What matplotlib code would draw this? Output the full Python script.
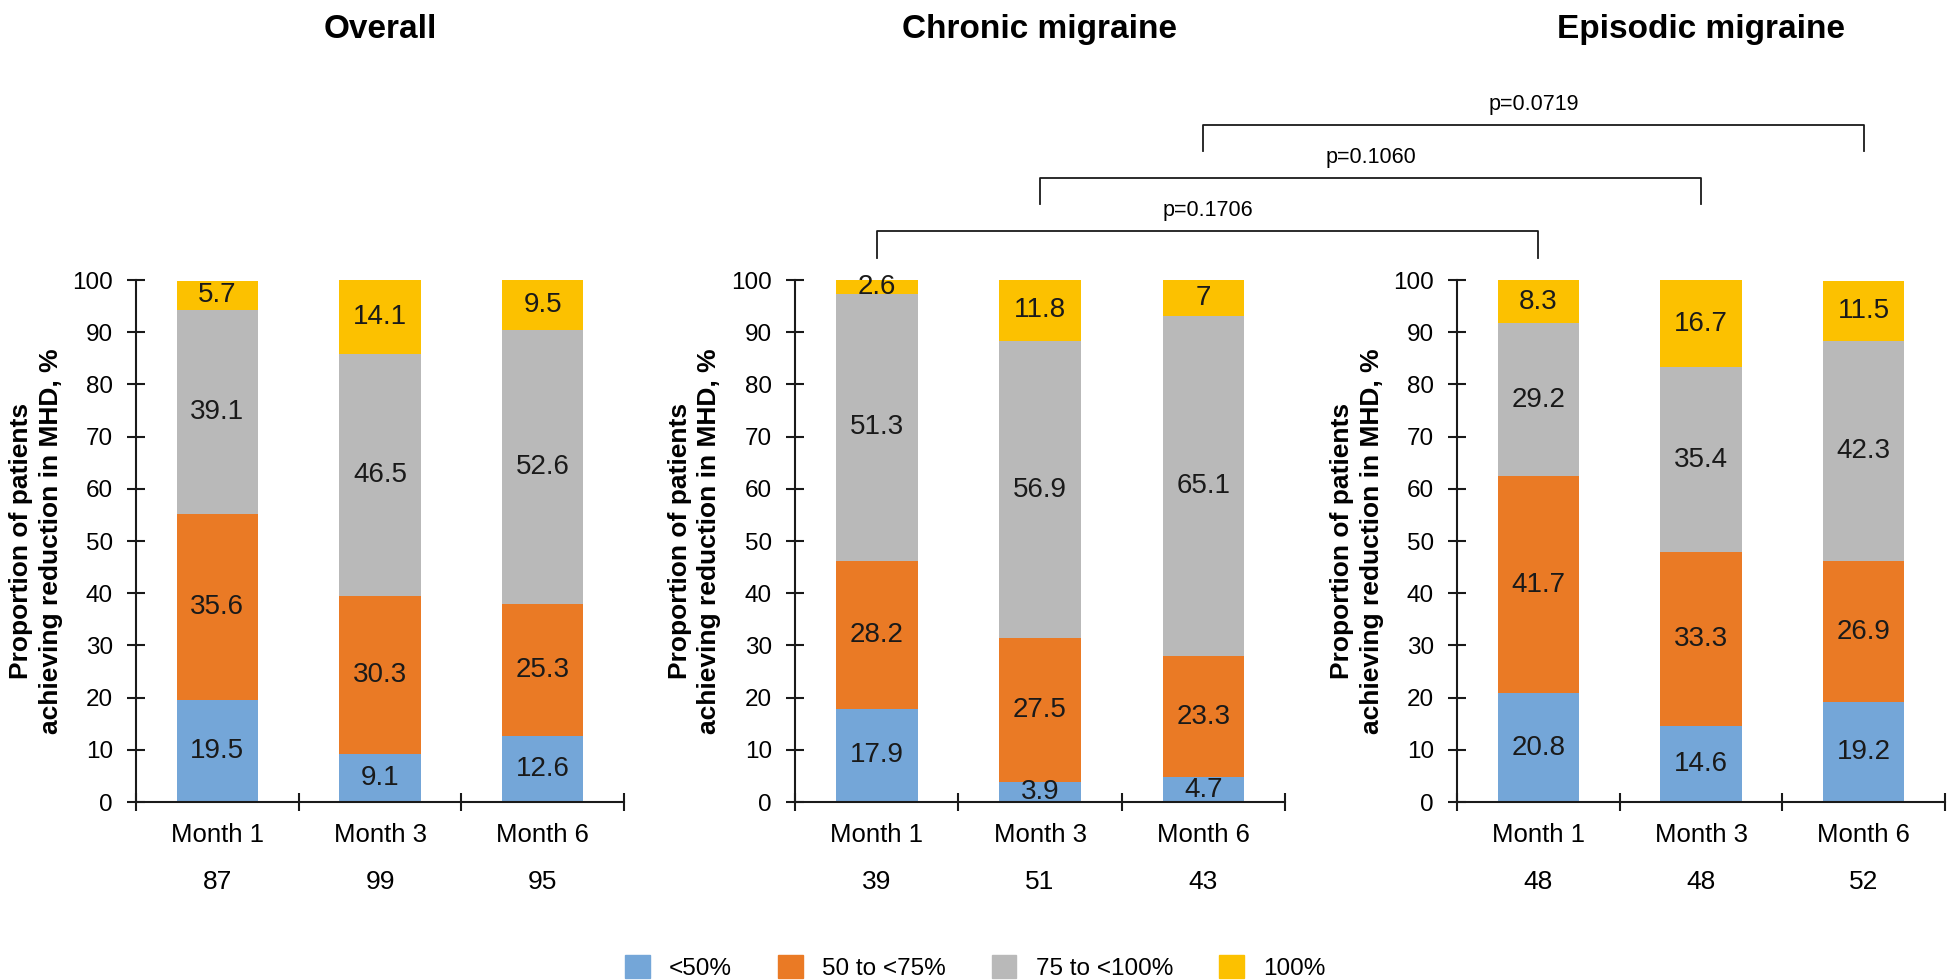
import matplotlib.pyplot as plt
from matplotlib.lines import Line2D
from matplotlib.patches import Patch

plt.rcParams['font.family'] = ['Liberation Sans', 'DejaVu Sans']

months = ['Month 1', 'Month 3', 'Month 6']
titles = ['Overall', 'Chronic migraine', 'Episodic migraine']
categories = ['<50%', '50 to <75%', '75 to <100%', '100%']
colors = ['#74A6D8', '#EA7A25', '#B9B9B9', '#FCC100']

n_overall = [87, 99, 95]
n_chronic = [39, 51, 43]
n_episodic = [48, 48, 52]

overall_lt50 = [19.5, 9.1, 12.6]
overall_50_75 = [35.6, 30.3, 25.3]
overall_75_100 = [39.1, 46.5, 52.6]
overall_100 = [5.7, 14.1, 9.5]

chronic_lt50 = [17.9, 3.9, 4.7]
chronic_50_75 = [28.2, 27.5, 23.3]
chronic_75_100 = [51.3, 56.9, 65.1]
chronic_100 = [2.6, 11.8, 7]

episodic_lt50 = [20.8, 14.6, 19.2]
episodic_50_75 = [41.7, 33.3, 26.9]
episodic_75_100 = [29.2, 35.4, 42.3]
episodic_100 = [8.3, 16.7, 11.5]

# chronic vs episodic, same month
p_labels = ['p=0.1706', 'p=0.1060', 'p=0.0719']

panels = [
    [overall_lt50, overall_50_75, overall_75_100, overall_100],
    [chronic_lt50, chronic_50_75, chronic_75_100, chronic_100],
    [episodic_lt50, episodic_50_75, episodic_75_100, episodic_100],
]
ns = [n_overall, n_chronic, n_episodic]

W, H = 1951, 980
fig = plt.figure(figsize=(W / 100, H / 100), dpi=100)

lefts = [136, 795, 1457]
widths = [488, 490, 488]
x = [0, 1, 2]
axes = []
for i in range(3):
    ax = fig.add_axes([lefts[i] / W, 178 / H, widths[i] / W, 522 / H])
    axes.append(ax)
    bottom = [0, 0, 0]
    for vals, col in zip(panels[i], colors):
        ax.bar(x, vals, width=0.5, bottom=bottom, color=col, zorder=2)
        for xi, v, b in zip(x, vals, bottom):
            ax.text(xi, b + v / 2, f'{v:g}', ha='center', va='center',
                    fontsize=20, color='#1a1a1a', zorder=3)
        bottom = [b + v for b, v in zip(bottom, vals)]

    ax.set_xlim(-0.5, 2.5)
    ax.set_ylim(0, 100)
    for s in ['top', 'right']:
        ax.spines[s].set_visible(False)
    for s in ['left', 'bottom']:
        ax.spines[s].set_linewidth(1.5)
        ax.spines[s].set_color('#1a1a1a')
    ax.set_yticks(range(0, 101, 10))
    ax.set_xticks([-0.5, 0.5, 1.5, 2.5])
    ax.set_xticklabels([])
    ax.set_xticks(x, months, minor=True)
    ax.tick_params(which='major', direction='inout', length=13, width=1.5,
                   labelsize=17.5, pad=10, color='#1a1a1a')
    ax.tick_params(axis='x', which='minor', length=0, labelsize=18.5, pad=15)
    for xi, n in zip(x, ns[i]):
        ax.text(xi, -0.153, str(n), transform=ax.get_xaxis_transform(),
                ha='center', va='center', fontsize=19)

    ax.set_ylabel('Proportion of patients\nachieving reduction in MHD, %',
                  fontsize=19, fontweight='bold', va='center', linespacing=1.3)
    ax.yaxis.set_label_coords(-0.205, 0.5)
    ax.text(0.5, 1.4636, titles[i], transform=ax.transAxes, ha='center',
            va='baseline', fontsize=24, fontweight='bold')

# significance brackets between chronic and episodic bars
inv = fig.transFigure.inverted()
ax_c, ax_e = axes[1], axes[2]
for i in range(3):
    top = 109.3 + 10.2 * i
    xa, ya = inv.transform(ax_c.transData.transform((x[i], top)))
    xb, yl = inv.transform(ax_e.transData.transform((x[i], top - 5)))
    fig.add_artist(Line2D([xa, xa, xb, xb], [yl, ya, ya, yl],
                          transform=fig.transFigure, color='#1a1a1a', lw=1.3))
    _, yt = inv.transform(ax_c.transData.transform((0, top + 4.0)))
    fig.text((xa + xb) / 2, yt, p_labels[i], ha='center', va='center', fontsize=15.5)

handles = [Patch(color=c) for c in colors]
fig.legend(handles, categories, loc='center', bbox_to_anchor=(0.5, 0.013),
           ncol=4, frameon=False, fontsize=17.5, handlelength=1.0,
           handleheight=1.1, handletextpad=0.8, columnspacing=1.9,
           borderpad=0, borderaxespad=0)

fig.savefig('out.png', dpi=100)
